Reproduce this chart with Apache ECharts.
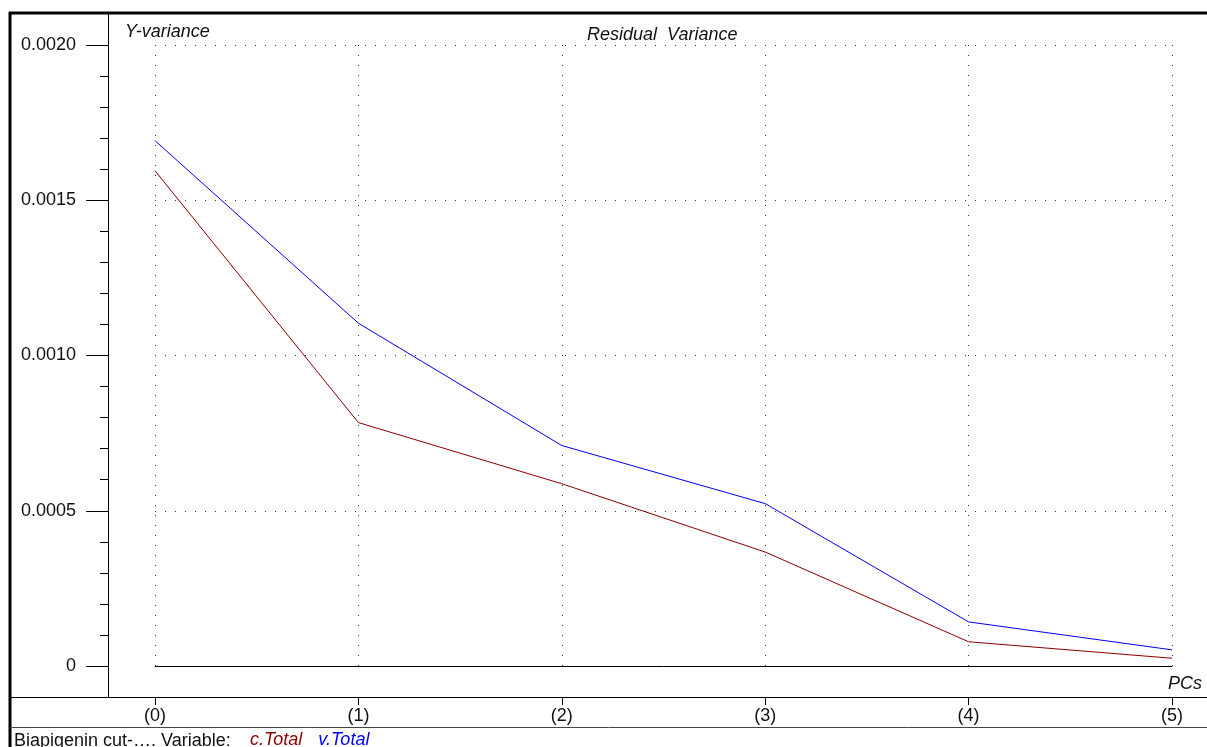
<!DOCTYPE html>
<html>
<head>
<meta charset="utf-8">
<script src="https://cdn.jsdelivr.net/npm/echarts@6/dist/echarts.min.js"></script>
<style>
  html, body { margin: 0; padding: 0; background: #fff; }
  #main { width: 1207px; height: 747px; }
</style>
</head>
<body>
<div id="main"></div>
<script>
// data
let pcs = ["(0)", "(1)", "(2)", "(3)", "(4)", "(5)"];
let cTotal = [0.001595, 0.000784, 0.000587, 0.000367, 0.000078, 0.000025];
let vTotal = [0.001692, 0.001104, 0.000710, 0.000523, 0.000142, 0.000052];
let yTickLabels = { "0": "0", "0.0005": "0.0005", "0.001": "0.0010", "0.0015": "0.0015", "0.002": "0.0020" };

let font = "'Liberation Sans', Arial, sans-serif";
let dom = document.getElementById("main");
let myChart = echarts.init(dom, null, { renderer: "canvas" });

let dotted = { color: "#333", width: 1, type: [1, 9] };

let option = {
    animation: false,
    backgroundColor: "#fff",
    textStyle: { fontFamily: font },
    title: {
        text: "Residual  Variance",
        left: 582,
        top: 21,
        textStyle: { fontFamily: font, fontSize: 18, fontWeight: "normal", fontStyle: "italic", color: "#111" },
    },
    legend: {
        left: 244,
        top: 731,
        itemWidth: 0,
        itemHeight: 0,
        itemGap: 10,
        padding: 0,
        selectedMode: false,
        textStyle: { fontFamily: font, fontSize: 18, fontStyle: "italic" },
        data: [
            { name: "c.Total", textStyle: { color: "#8b0000" } },
            { name: "v.Total", textStyle: { color: "#0000ff" } },
        ],
    },
    // main plot + a thin strip under it that carries the tick labels
    grid: [
        { left: 155, right: 35, top: 45, bottom: 81 },
        { left: 155, right: 35, top: 687, bottom: 50 },
    ],
    xAxis: [{
        gridIndex: 0,
        type: "category",
        data: pcs,
        boundaryGap: false,
        position: "bottom",
        axisLine: { show: true, lineStyle: { color: "#000", width: 1 } },
        axisTick: { show: false },
        axisLabel: { show: false },
        splitLine: { show: true, lineStyle: dotted },
    }, {
        gridIndex: 1,
        type: "category",
        data: pcs,
        boundaryGap: false,
        position: "bottom",
        axisLine: { show: true, lineStyle: { color: "#000", width: 1 } },
        axisTick: { show: true, length: 8, alignWithLabel: true, lineStyle: { color: "#000" } },
        axisLabel: { margin: 10, fontSize: 18, color: "#111", fontFamily: font },
        splitLine: { show: false },
    }],
    yAxis: [{
        gridIndex: 0,
        type: "value",
        min: 0,
        max: 0.002,
        interval: 0.0005,
        offset: 47,
        axisLine: { show: false },
        axisTick: { show: true, length: 22, lineStyle: { color: "#000" } },
        minorTick: { show: true, splitNumber: 5, length: 8, lineStyle: { color: "#000" } },
        axisLabel: {
            margin: 32,
            fontSize: 18,
            color: "#111",
            fontFamily: font,
            formatter: function (v) {
                let k = String(Math.round(v * 10000) / 10000);
                return yTickLabels[k] !== undefined ? yTickLabels[k] : k;
            },
        },
        splitLine: { show: true, lineStyle: dotted },
    }, {
        gridIndex: 1,
        type: "value",
        show: false,
        min: 0,
        max: 1,
    }],
    series: [{
        name: "c.Total",
        type: "line",
        data: cTotal,
        symbol: "none",
        color: "#8b0000",
        lineStyle: { color: "#8b0000", width: 1 },
        z: 3,
    }, {
        name: "v.Total",
        type: "line",
        data: vTotal,
        symbol: "none",
        color: "#0000ff",
        lineStyle: { color: "#0000ff", width: 1 },
        z: 3,
    }],
    graphic: [
        // frame
        { type: "line", shape: { x1: 10, y1: 12, x2: 10, y2: 747 }, style: { stroke: "#000", lineWidth: 3 } },
        { type: "line", shape: { x1: 9, y1: 13, x2: 1207, y2: 13 }, style: { stroke: "#000", lineWidth: 3 } },
        { type: "line", shape: { x1: 108.5, y1: 13, x2: 108.5, y2: 697 }, style: { stroke: "#000", lineWidth: 1 } },
        { type: "line", shape: { x1: 10, y1: 697.5, x2: 1207, y2: 697.5 }, style: { stroke: "#000", lineWidth: 1 } },
        { type: "line", shape: { x1: 10, y1: 727.5, x2: 1207, y2: 727.5 }, style: { stroke: "#444", lineWidth: 1 } },
        { type: "text", left: 125, top: 23, style: { text: "Y-variance", font: "italic 18px " + font, fill: "#111" } },
        { type: "text", right: 5, top: 675, style: { text: "PCs", font: "italic 18px " + font, fill: "#111" } },
        { type: "text", left: 14, top: 732, style: { text: "Biapigenin cut-…. Variable:", font: "18px " + font, fill: "#111" } },
    ],
};

if (option && typeof option === "object") {
    myChart.setOption(option);
}

window.addEventListener("resize", myChart.resize);
</script>
</body>
</html>
